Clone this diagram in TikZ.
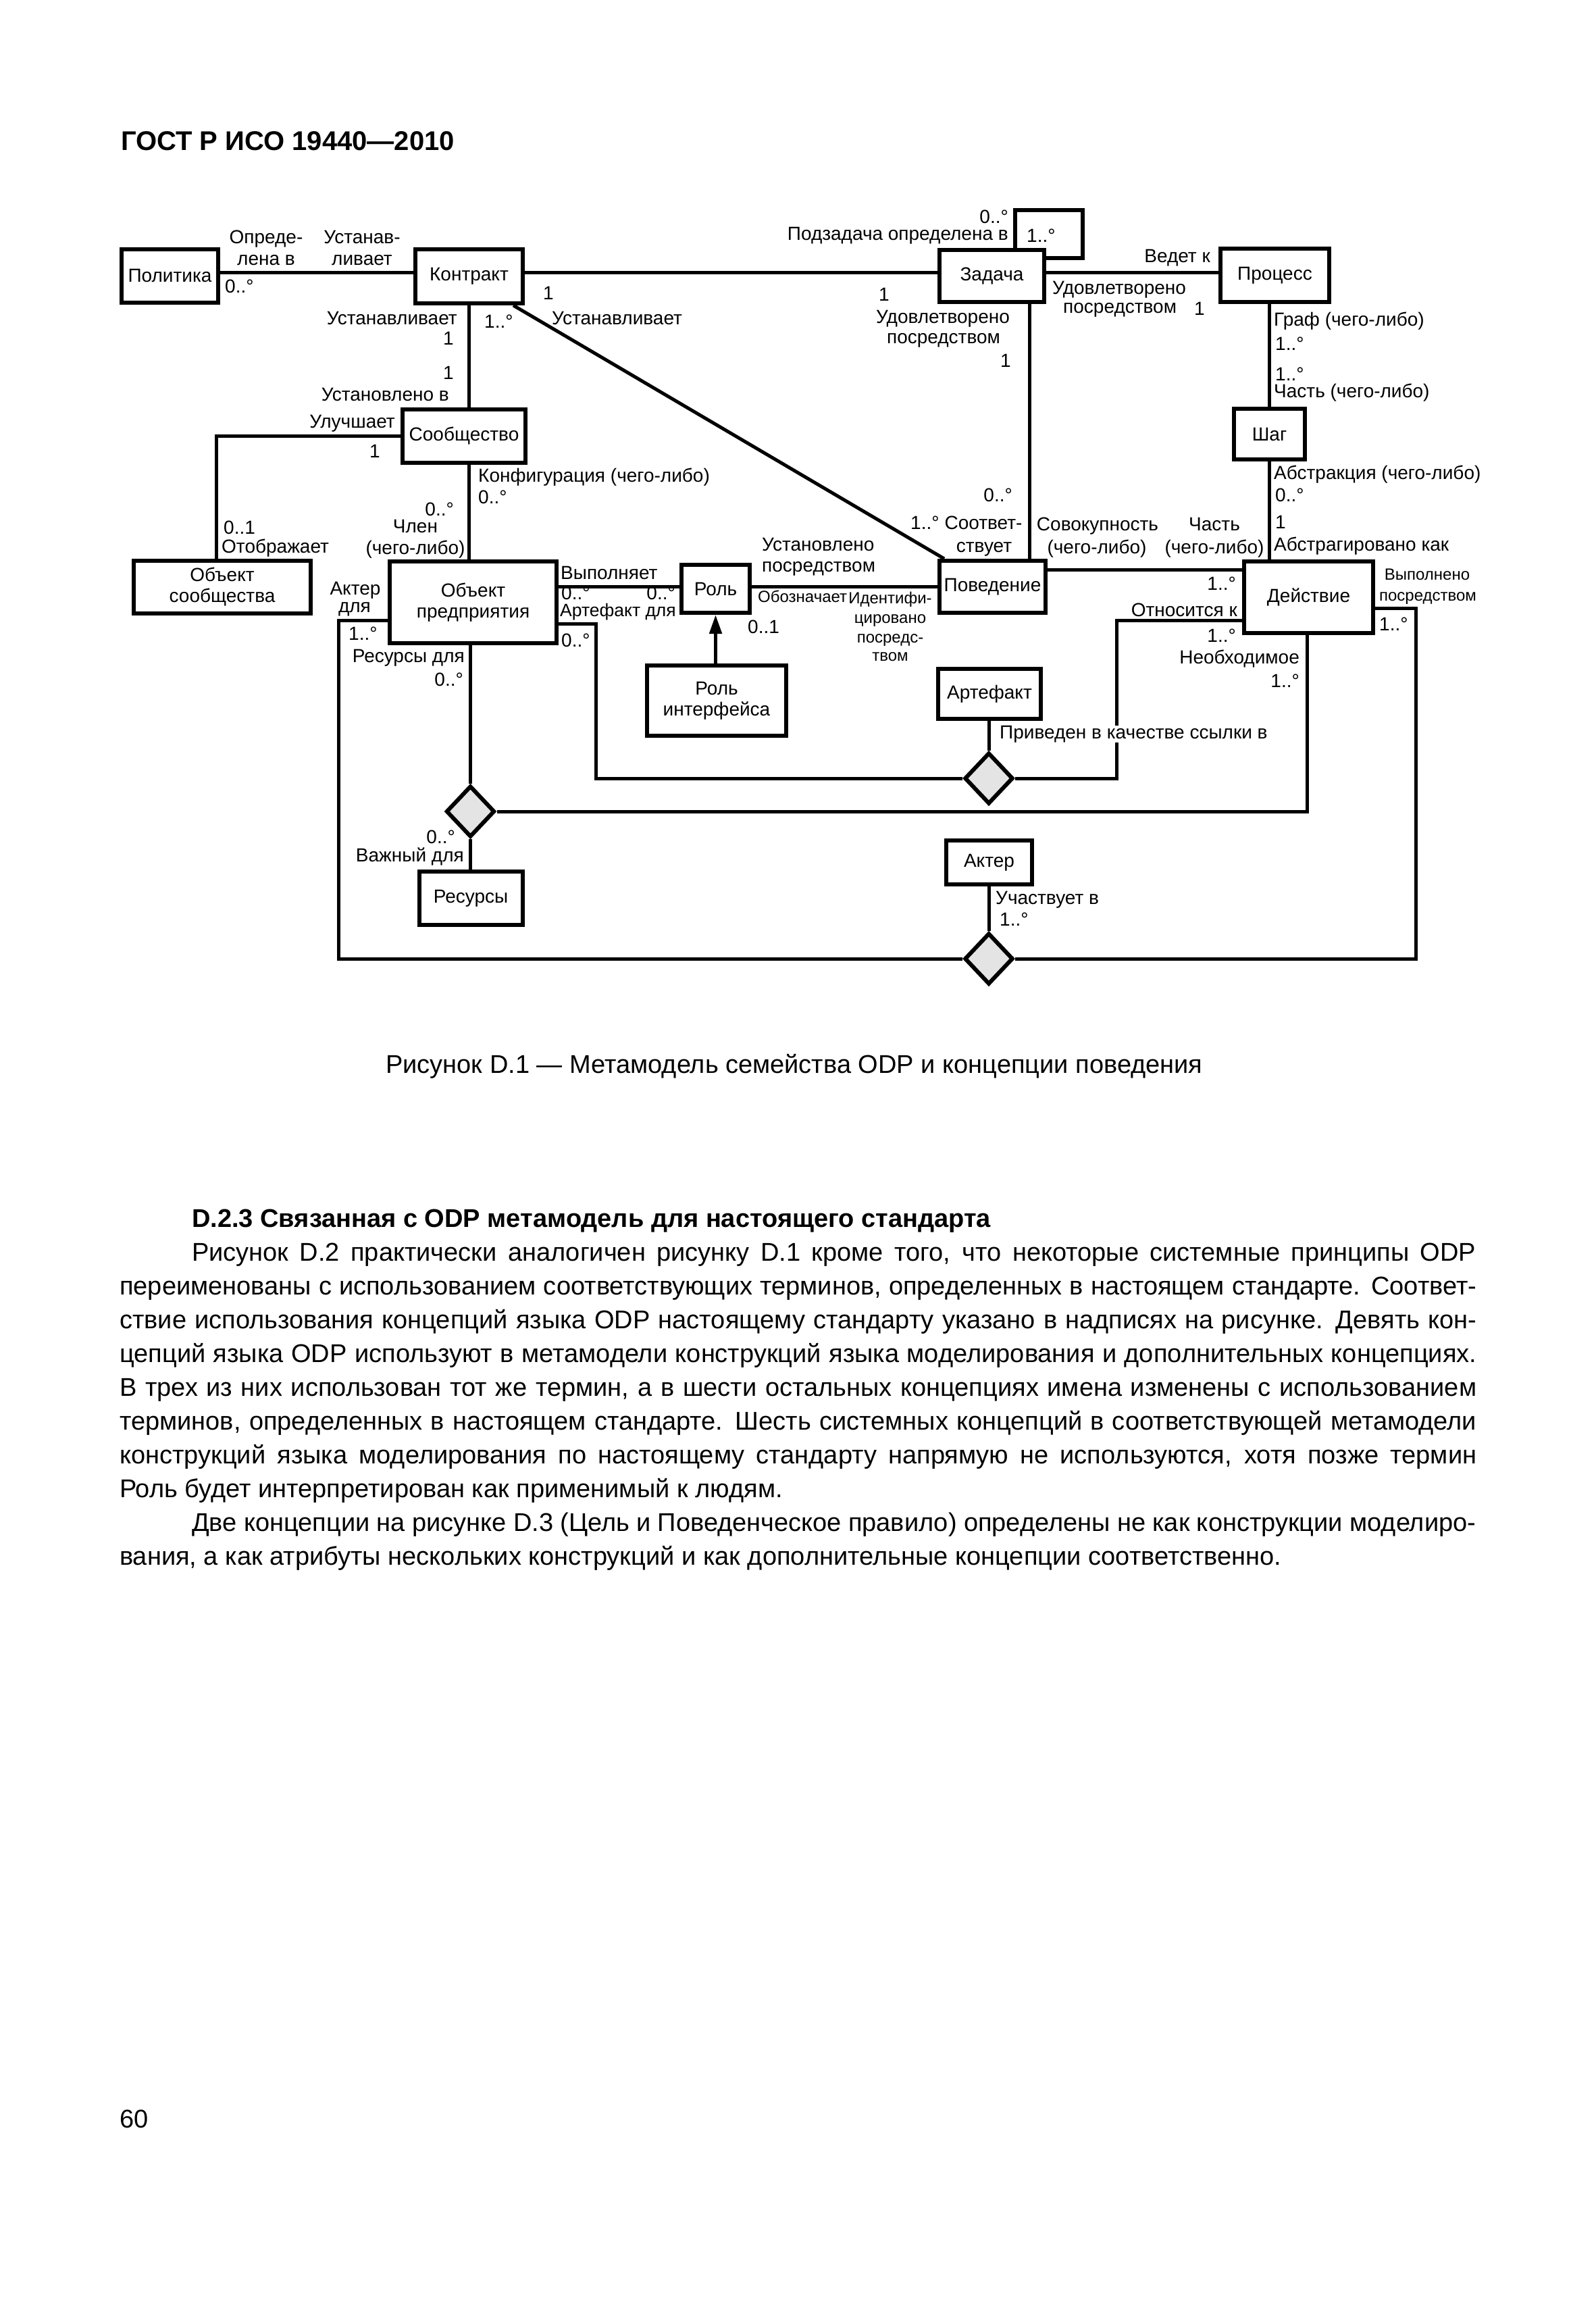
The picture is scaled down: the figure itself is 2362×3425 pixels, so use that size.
\documentclass[tikz,border=0pt]{standalone}
\usepackage{fontspec}
\setmainfont{Liberation Sans}
\usetikzlibrary{shapes.geometric,arrows.meta}
\newcommand\lf{\fontsize{28}{31}\selectfont}
\newcommand\smallf{\fontsize{24}{28}\selectfont}
\newcommand\bodyf{\fontsize{38}{50}\selectfont}
\definecolor{dfill}{RGB}{228,228,228}
\begin{document}
\begin{tikzpicture}[x=1pt,y=-1pt,line join=miter,
 box/.style={draw,line width=6pt,fill=white,inner sep=0pt,align=center,font=\lf},
 dia/.style={diamond,draw,line width=6pt,fill=dfill,inner sep=0pt,minimum width=72pt,minimum height=76pt},
 con/.style={line width=5pt},
 lab/.style={font=\lf,inner sep=0pt},
 slab/.style={font=\smallf,inner sep=0pt},
 body/.style={font=\bodyf,inner sep=0pt,anchor=base west}]
\useasboundingbox[fill=white] (0,0) rectangle (2362,3425);

\coordinate (lp) at (1603,311);
\coordinate (zadtmp) at (1468.5,408.5);

% boxes
\node[box,minimum width=143pt,minimum height=79pt] (pol) at (251.5,408.5) {Политика};
\node[box,minimum width=159pt,minimum height=80pt] (kon) at (694.5,409) {Контракт};
\node[box,minimum width=161pt,minimum height=79pt] (pro) at (1887.5,407.5) {Процесс};
\node[box,minimum width=105pt,minimum height=75pt] (shag) at (1879.5,642.5) {Шаг};
\node[box,minimum width=182pt,minimum height=79pt] (soo) at (687,645.5) {Сообщество};
\node[box,minimum width=262pt,minimum height=78pt] (obs) at (329,869) {Объект\\сообщества};
\node[box,minimum width=247pt,minimum height=121pt] (obp) at (700.5,891.5) {Объект\\предприятия};
\node[box,minimum width=101pt,minimum height=71pt] (rol) at (1059.5,871.5) {Роль};
\node[box,minimum width=157pt,minimum height=77pt] (pov) at (1469.5,868.5) {Поведение};
\node[box,minimum width=191pt,minimum height=106pt] (dei) at (1937.5,884) {Действие};
\node[box,minimum width=206pt,minimum height=104pt] (rif) at (1061,1037) {Роль\\интерфейса};
\node[box,minimum width=152pt,minimum height=74pt] (art) at (1465,1027) {Артефакт};
\node[box,minimum width=127pt,minimum height=65pt] (akt) at (1464.5,1276.5) {Актер};
\node[box,minimum width=153pt,minimum height=79pt] (res) at (697,1329.5) {Ресурсы};
\node[dia] (d1) at (1464,1152) {};
\node[dia] (d2) at (696.5,1201) {};
\node[dia] (d3) at (1464,1419) {};

% Task box with its self-loop
\node[box,minimum width=155pt,minimum height=77pt] (zad) at (zadtmp) {Задача};
\draw[line width=6pt] ([xshift=34pt]zad.north) |- (lp) |- ([yshift=26.5pt]zad.east);

% connectors
\draw[con] ([yshift=5.5pt]pol.east) -- ([yshift=5.5pt]pol.east -| kon.west);
\draw[con] ([yshift=6pt]kon.east) -- ([yshift=6pt]kon.east -| zad.west);
\draw[con] ([yshift=5.5pt]zad.east) -- ([yshift=5.5pt]zad.east -| pro.west);
\draw[con] (kon.south) -- (kon.south |- soo.north);
\draw[con] (soo.west) -| ([xshift=-9pt]obs.north);
\draw[con] (kon.south |- soo.south) -- (kon.south |- obp.north);
\draw[con] (d2.north |- obp.south) -- (d2.north);
\draw[con] (d2.south) -- (d2.south |- res.north);
\draw[con] (d2.east) -| ([xshift=-2.5pt]dei.south);
\coordinate (lb) at (501,1419);
\draw[con] ([yshift=-26.5pt]obp.west) -| (lb) -- (d3.west);
\coordinate (rb) at (2096,1419);
\draw[con] (d3.east) -- (rb) |- ([yshift=-16pt]dei.east);
\draw[con] (d3.north |- akt.south) -- (d3.north);
\draw[con] (d1.north |- art.south) -- (d1.north);
\coordinate (ab) at (1653,1152);
\draw[con] (d1.east) -- (ab) |- ([yshift=-34pt]dei.west);
\coordinate (ob) at (882,1152);
\draw[con] (d1.west) -- (ob) |- ([yshift=-31.5pt]obp.east);
\draw[con] ([yshift=23.5pt]obp.east) -- ([yshift=23.5pt]obp.east -| rol.west);
\draw[con] ([yshift=3.5pt]rol.east) -- ([yshift=3.5pt]rol.east -| pov.west);
\draw[con,-{Triangle[length=28pt,width=18pt]}] (rol.south |- rif.north) -- (rol.south);
\draw[con] ([xshift=-17pt]kon.south east) -- ([xshift=10pt]pov.north west);
\draw[con] ([xshift=56pt]zad.south) -- ([xshift=56pt]zad.south |- pov.north);
\draw[con] ([yshift=25.5pt]pov.east) -- ([yshift=25.5pt]pov.east -| dei.west);
\draw[con] (shag.north |- pro.south) -- (shag.north);
\draw[con] (shag.south) -- (shag.south |- dei.north);

% labels
\node[lab,anchor=base] (t1) at (394,360) {Опреде-};
\node[lab,anchor=base] (t2) at (394,392) {лена в};
\node[lab,anchor=base] (t3) at (536,360) {Устанав-};
\node[lab,anchor=base] (t4) at (536,392) {ливает};
\node[lab,anchor=base west] (t5) at (333,433) {0..°};
\node[lab,anchor=base west] (t6) at (804,443) {1};
\node[lab,anchor=base east] (t7) at (677,480) {Устанавливает};
\node[lab,anchor=base east] (t8) at (672,510) {1};
\node[lab,anchor=base east] (t9) at (672,561) {1};
\node[lab,anchor=base east] (t10) at (665,593) {Установлено в};
\node[lab,anchor=base east] (t11) at (585,633) {Улучшает};
\node[lab,anchor=base west] (t12) at (717,485) {1..°};
\node[lab,anchor=base west] (t13) at (817,480) {Устанавливает};
\node[lab,anchor=base east] (t14) at (563,677) {1};
\node[lab,anchor=base east] (t15) at (1493,330) {0..°};
\node[lab,anchor=base east] (t16) at (1493,355) {Подзадача определена в};
\node[lab,anchor=base east] (t17) at (1317,445) {1};
\node[lab,anchor=base] (t18) at (1396,478) {Удовлетворено};
\node[lab,anchor=base] (t19) at (1397,508) {посредством};
\node[lab,anchor=base east] (t20) at (1497,543) {1};
\node[lab,anchor=base west] (t21) at (1520,358) {1..°};
\node[lab,anchor=base east] (t22) at (1792,388) {Ведет к};
\node[lab,anchor=base west] (t23) at (1558,435) {Удовлетворено};
\node[lab,anchor=base west] (t24) at (1574,463) {посредством};
\node[lab,anchor=base west] (t25) at (1768,466) {1};
\node[lab,anchor=base west] (t26) at (1886,482) {Граф (чего-либо)};
\node[lab,anchor=base west] (t27) at (1888,518) {1..°};
\node[lab,anchor=base west] (t28) at (1888,563) {1..°};
\node[lab,anchor=base west] (t29) at (1886,588) {Часть (чего-либо)};
\node[lab,anchor=base west] (t30) at (1886,709) {Абстракция (чего-либо)};
\node[lab,anchor=base west] (t31) at (1888,742) {0..°};
\node[lab,anchor=base west] (t32) at (1888,782) {1};
\node[lab,anchor=base west] (t33) at (1886,815) {Абстрагировано как};
\node[lab,anchor=base] (t34) at (1625,785) {Совокупность};
\node[lab,anchor=base] (t35) at (1624,819) {(чего-либо)};
\node[lab,anchor=base] (t36) at (1798,785) {Часть};
\node[lab,anchor=base] (t37) at (1798,819) {(чего-либо)};
\node[lab,anchor=base east] (t38) at (1830,873) {1..°};
\node[lab,anchor=base east] (t39) at (1832,912) {Относится к};
\node[lab,anchor=base east] (t40) at (1830,950) {1..°};
\node[lab,anchor=base east] (t41) at (1924,982) {Необходимое};
\node[lab,anchor=base east] (t42) at (1924,1017) {1..°};
\node[slab,anchor=base] (t43) at (2113,858) {Выполнено};
\node[slab,anchor=base] (t44) at (2114,889) {посредством};
\node[lab,anchor=base west] (t45) at (2042,933) {1..°};
\node[lab,anchor=base east] (t46) at (1499,742) {0..°};
\node[lab,anchor=base west] (t47) at (1348,783) {1..°};
\node[lab,anchor=base] (t48) at (1456,783) {Соответ-};
\node[lab,anchor=base] (t49) at (1457,817) {ствует};
\node[lab,anchor=base west] (t50) at (1128,815) {Установлено};
\node[lab,anchor=base west] (t51) at (1128,846) {посредством};
\node[lab,anchor=base west] (t52) at (830,857) {Выполняет};
\node[lab,anchor=base west] (t53) at (831,887) {0..°};
\node[lab,anchor=base west,font=\fontsize{26.5}{30}\selectfont] (t54) at (829,912) {Артефакт для};
\node[lab,anchor=base east] (t55) at (1000,887) {0..°};
\node[lab,anchor=base west] (t56) at (831,957) {0..°};
\node[slab,anchor=base west] (t57) at (1122,891) {Обозначает};
\node[slab,anchor=base] (t58) at (1318,893) {Идентифи-};
\node[slab,anchor=base] (t59) at (1318,922) {цировано};
\node[slab,anchor=base] (t60) at (1318,951) {посредс-};
\node[slab,anchor=base] (t61) at (1318,978) {твом};
\node[lab,anchor=base west] (t62) at (1107,937) {0..1};
\node[lab,anchor=base west] (t63) at (708,713) {Конфигурация (чего-либо)};
\node[lab,anchor=base west] (t64) at (708,745) {0..°};
\node[lab,anchor=base east] (t65) at (672,763) {0..°};
\node[lab,anchor=base] (t66) at (615,788) {Член};
\node[lab,anchor=base] (t67) at (615,820) {(чего-либо)};
\node[lab,anchor=base west] (t68) at (331,790) {0..1};
\node[lab,anchor=base west] (t69) at (328,818) {Отображает};
\node[lab,anchor=base] (t70) at (526,880) {Актер};
\node[lab,anchor=base] (t71) at (525,906) {для};
\node[lab,anchor=base west] (t72) at (516,947) {1..°};
\node[lab,anchor=base east] (t73) at (688,980) {Ресурсы для};
\node[lab,anchor=base east] (t74) at (686,1015) {0..°};
\node[lab,anchor=base east] (t75) at (674,1248) {0..°};
\node[lab,anchor=base east] (t76) at (687,1275) {Важный для};
\node[lab,anchor=base west,fill=white] (t77) at (1480,1093) {Приведен в качестве ссылки в};
\node[lab,anchor=base west] (t78) at (1474,1338) {Участвует в};
\node[lab,anchor=base west] (t79) at (1480,1370) {1..°};

% page text
\node[body,font=\bfseries\fontsize{40}{48}\selectfont] (hdr) at (179,223) {ГОСТ Р ИСО 19440—2010};
\node[body] (cap) at (571,1588) {Рисунок D.1 — Метамодель семейства ODP и концепции поведения};
\node[body,font=\bfseries\bodyf] (h23) at (284,1816) {D.2.3 Связанная с ODP метамодель для настоящего стандарта};
\node[body] (p1) at (284,1866) {\makebox[1901pt][s]{Рисунок D.2 практически аналогичен рисунку D.1 кроме того, что некоторые системные принципы ODP}};
\node[body] (p2) at (177,1916) {\makebox[2009pt][s]{переименованы с использованием соответствующих терминов, определенных в настоящем стандарте. Соответ-}};
\node[body] (p3) at (177,1966) {\makebox[2009pt][s]{ствие использования концепций языка ODP настоящему стандарту указано в надписях на рисунке. Девять кон-}};
\node[body] (p4) at (177,2016) {\makebox[2009pt][s]{цепций языка ODP используют в метамодели конструкций языка моделирования и дополнительных концепциях.}};
\node[body] (p5) at (177,2066) {\makebox[2009pt][s]{В трех из них использован тот же термин, а в шести остальных концепциях имена изменены с использованием}};
\node[body] (p6) at (177,2116) {\makebox[2009pt][s]{терминов, определенных в настоящем стандарте. Шесть системных концепций в соответствующей метамодели}};
\node[body] (p7) at (177,2166) {\makebox[2009pt][s]{конструкций языка моделирования по настоящему стандарту напрямую не используются, хотя позже термин}};
\node[body] (p8) at (177,2216) {Роль будет интерпретирован как применимый к людям.};
\node[body] (p9) at (284,2266) {\makebox[1901pt][s]{Две концепции на рисунке D.3 (Цель и Поведенческое правило) определены не как конструкции моделиро-}};
\node[body] (p10) at (177,2316) {вания, а как атрибуты нескольких конструкций и как дополнительные концепции соответственно.};
\node[body] (pg) at (177,3149) {60};
\end{tikzpicture}
\end{document}
